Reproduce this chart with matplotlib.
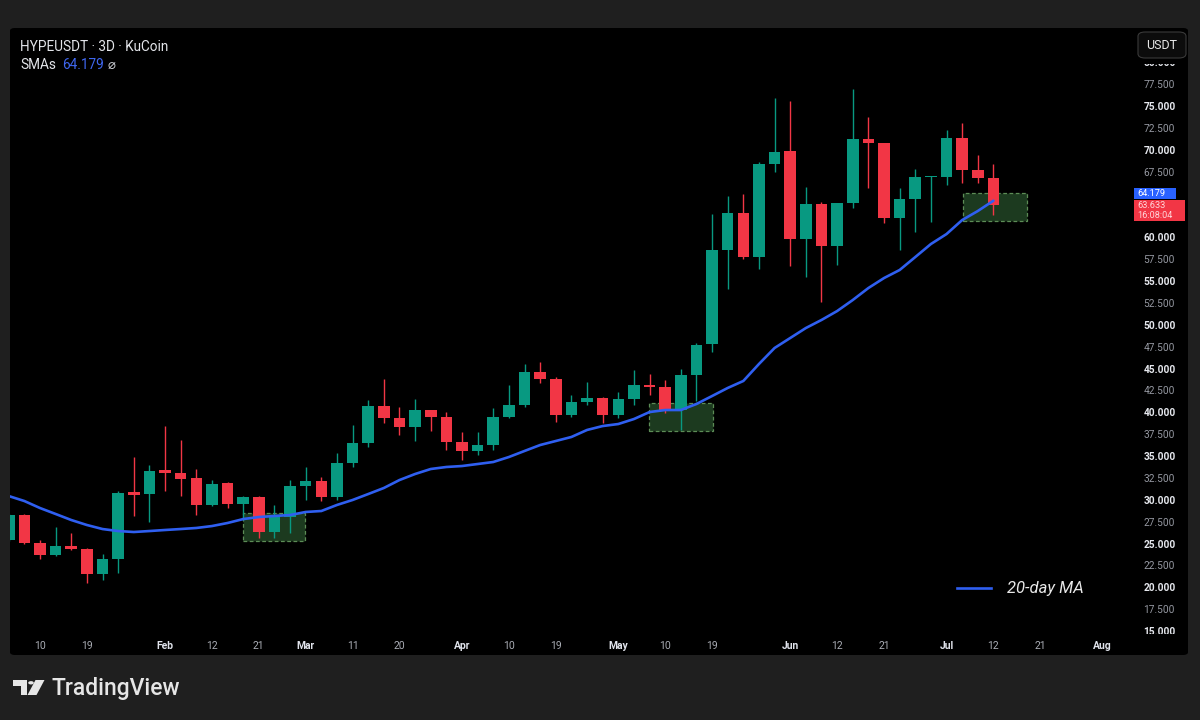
#!/usr/bin/env python
# -*- coding: utf-8 -*-

import matplotlib as mpl
mpl.use('Agg')
import matplotlib.pyplot as plt
from matplotlib.patches import FancyBboxPatch, Rectangle, Polygon, Circle
from matplotlib.lines import Line2D
from matplotlib.transforms import Bbox, TransformedBbox
import numpy as np
import pandas as pd

plt.rcParams['font.family'] = ['Roboto', 'DejaVu Sans']

# 3D candles, first bar starts 2025-01-04 (bar index -2), Jan 10 = index 0
first_bar = '2025-01-10'
bar_index = np.arange(-2, 62)
opens = [25.41, 28.26, 25.06, 23.69, 24.72, 24.38, 21.52, 23.24, 30.89, 30.66,
         33.40, 33.06, 32.49, 29.41, 31.92, 29.52, 30.32, 26.32, 28.03, 31.58,
         32.15, 30.32, 34.20, 36.49, 40.72, 39.35, 38.32, 40.26, 39.46, 36.60,
         35.58, 36.26, 39.46, 40.83, 44.60, 43.80, 39.69, 41.17, 41.63, 39.69,
         41.50, 43.12, 42.90, 40.26, 44.26, 47.80, 58.54, 62.77, 57.75, 68.37,
         69.86, 59.80, 63.80, 59.00, 63.92, 71.23, 70.77, 62.20, 64.37, 66.89,
         66.89, 71.34, 67.69, 66.77]
highs = [28.40, 28.40, 25.41, 26.89, 26.21, 24.45, 23.81, 31.00, 34.89, 33.98,
         38.43, 36.83, 33.52, 32.26, 32.03, 30.40, 30.43, 29.41, 32.26, 33.75,
         32.60, 35.35, 38.55, 41.40, 43.80, 40.60, 41.50, 40.30, 40.00, 37.75,
         37.75, 40.50, 43.12, 45.52, 45.75, 44.00, 41.97, 43.50, 41.70, 42.30,
         44.80, 44.40, 43.70, 44.90, 47.90, 62.66, 64.72, 64.94, 68.60, 75.91,
         75.57, 65.74, 64.03, 63.90, 76.94, 73.74, 70.80, 65.63, 67.80, 67.00,
         72.26, 73.06, 69.40, 68.37]
lows = [25.30, 25.00, 23.24, 23.60, 24.30, 20.49, 20.84, 21.64, 28.15, 27.46,
        31.00, 30.43, 28.26, 29.30, 29.06, 27.69, 25.63, 25.63, 26.21, 29.98,
        29.90, 30.00, 33.80, 36.00, 38.78, 37.40, 36.70, 37.90, 35.69, 34.55,
        35.10, 35.70, 39.30, 40.60, 43.35, 38.90, 39.50, 40.83, 38.78, 39.40,
        40.80, 42.00, 39.90, 37.98, 41.30, 46.89, 54.09, 57.50, 56.37, 67.46,
        56.72, 55.46, 52.60, 56.83, 63.34, 65.63, 61.63, 58.54, 60.60, 61.74,
        65.97, 66.20, 66.20, 62.54]
closes = [28.26, 25.06, 23.69, 24.72, 24.38, 21.52, 23.24, 30.78, 30.55, 33.29,
          33.06, 32.38, 29.41, 31.80, 29.52, 30.32, 26.32, 28.03, 31.58, 32.15,
          30.32, 34.20, 36.49, 40.72, 39.35, 38.32, 40.26, 39.46, 36.60, 35.58,
          36.26, 39.46, 40.83, 44.60, 43.80, 39.69, 41.17, 41.63, 39.69, 41.50,
          43.12, 42.90, 40.26, 44.26, 47.69, 58.54, 62.77, 57.75, 68.37, 69.74,
          59.80, 63.80, 59.00, 63.92, 71.23, 70.77, 62.20, 64.37, 66.89, 67.00,
          71.34, 67.69, 66.77, 63.633]
sma20 = [30.43, 29.86, 29.06, 28.38, 27.69, 27.12, 26.66, 26.43, 26.32, 26.43,
         26.55, 26.66, 26.78, 27.00, 27.35, 27.80, 28.03, 28.15, 28.26, 28.61,
         28.72, 29.41, 29.98, 30.66, 31.35, 32.26, 32.95, 33.52, 33.75, 33.86,
         34.09, 34.32, 34.89, 35.58, 36.26, 36.72, 37.18, 37.98, 38.43, 38.66,
         39.23, 40.03, 40.26, 40.26, 40.95, 41.86, 42.78, 43.58, 45.52, 47.35,
         48.49, 49.63, 50.55, 51.57, 52.83, 54.20, 55.34, 56.26, 57.74, 59.23,
         60.37, 61.97, 63.00, 64.179]
countdown = '16:08:04'

tick_dates = ['2025-01-10', '2025-01-19', '2025-02-03', '2025-02-12', '2025-02-21',
              '2025-03-02', '2025-03-11', '2025-03-20', '2025-04-01', '2025-04-10',
              '2025-04-19', '2025-05-01', '2025-05-10', '2025-05-19', '2025-06-03',
              '2025-06-12', '2025-06-21', '2025-07-03', '2025-07-12', '2025-07-21',
              '2025-08-02']
tick_labels = ['10', '19', 'Feb', '12', '21', 'Mar', '11', '20', 'Apr', '10', '19',
               'May', '10', '19', 'Jun', '12', '21', 'Jul', '12', '21', 'Aug']

# highlighted zones: (bar from, bar to, price low, price high)
zones = [(13.0, 16.95, 25.29, 28.49),
         (38.96, 43.06, 37.86, 41.06),
         (59.05, 63.15, 61.86, 65.06)]

W, H = 1200, 720
green = '#089981'
red = '#f23645'
blue = '#2f5ff0'

def fx(x):
    return x / W

def fy(y):
    return 1 - y / H

fig = plt.figure(figsize=(12, 7.2), dpi=100, facecolor='#1f1f1f')

# black chart panel (behind the axes)
fig.patches.append(FancyBboxPatch((fx(10), fy(655)), fx(1188) - fx(10), fy(28) - fy(655),
                                  boxstyle='round,pad=0,rounding_size=0.004',
                                  transform=fig.transFigure, fc='black', ec='none', zorder=-5))

ax = fig.add_axes([fx(10), fy(635), fx(1110) - fx(10), fy(32) - fy(635)])
ax.set_zorder(1)
ax.patch.set_alpha(0)
for s in ax.spines.values():
    s.set_visible(False)

x = bar_index
o = np.array(opens); c = np.array(closes)
hi = np.array(highs); lo = np.array(lows)
up = c >= o
colors = np.where(up, green, red)

# zones behind candles
for x0, x1, y0, y1 in zones:
    ax.add_patch(Rectangle((x0, y0), x1 - x0, y1 - y0, fc='#1c3a1f', ec='#5c8c56',
                           lw=0.9, ls=(0, (3, 2)), zorder=1))

ax.vlines(x, lo, hi, colors=colors, lw=1.0, zorder=2)
body = np.maximum(np.abs(c - o), 0.12)
ax.bar(x, body, bottom=np.minimum(o, c), width=0.74, color=colors, lw=0, zorder=3)

sma_line, = ax.plot(x, sma20, color=blue, lw=1.9, zorder=4, solid_capstyle='round')

ax.set_xlim(-1.92, 68.46)
ax.set_ylim(14.55, 83.46)

# time axis
t0 = pd.Timestamp(first_bar)
tick_pos = [(pd.Timestamp(d) - t0).days / 3 for d in tick_dates]
ax.set_xticks(tick_pos)
ax.set_xticklabels(tick_labels)
ax.tick_params(axis='x', length=0, pad=4.5, labelsize=7.5, labelcolor='#a9acb4')
for lab in ax.get_xticklabels():
    if not lab.get_text().isdigit():
        lab.set_fontweight('bold')
        lab.set_color('#e0e3eb')

# price axis; labels under the last-value tags are hidden, as in TradingView
yt = np.arange(15, 80.1, 2.5)
ax.yaxis.tick_right()
ax.set_yticks(yt)
ax.set_yticklabels(['{:.3f}'.format(v) for v in yt])
ax.tick_params(axis='y', length=0, pad=24, labelsize=7.3, labelcolor='#9598a1')
for v, lab in zip(yt, ax.get_yticklabels()):
    if v % 5 == 0:
        lab.set_fontweight('bold')
        lab.set_color('#e6e8ee')
    if 61.5 < v < 66:
        lab.set_visible(False)
    if v == 80:
        lab.set_clip_box(TransformedBbox(Bbox.from_extents(0, 0, 1, fy(64)), fig.transFigure))
        lab.set_clip_on(True)
    if v == 15:
        lab.set_clip_box(TransformedBbox(Bbox.from_extents(0, fy(634), 1, 1), fig.transFigure))
        lab.set_clip_on(True)

# USDT button
fig.patches.append(FancyBboxPatch((fx(1138), fy(58)), fx(1186) - fx(1138), fy(32) - fy(58),
                                  boxstyle='round,pad=0,rounding_size=0.006',
                                  transform=fig.transFigure, fc='#0c0c0c', ec='#3a3a3a',
                                  lw=0.8, zorder=5))
fig.text(fx(1162), fy(45.5), 'USDT', color='#e8e8e8', fontsize=9, ha='center', va='center', zorder=6)

# last value tags
fig.patches.append(Rectangle((fx(1134), fy(199)), fx(1176) - fx(1134), fy(188) - fy(199),
                             transform=fig.transFigure, fc='#2962ff', ec='none', zorder=5))
fig.text(fx(1137), fy(193), '{:.3f}'.format(sma20[-1]), color='white', fontsize=6.6,
         ha='left', va='center', zorder=6)
fig.patches.append(Rectangle((fx(1134), fy(221)), fx(1185) - fx(1134), fy(200) - fy(221),
                             transform=fig.transFigure, fc=red, ec='none', zorder=5))
fig.text(fx(1137), fy(201.3), '{:.3f}\n{}'.format(closes[-1], countdown), color='#ffd6da',
         fontsize=6.6, linespacing=1.05, ha='left', va='top', zorder=6)

# header
fig.text(fx(20), fy(47), 'HYPEUSDT · 3D · KuCoin', color='#e3e5ea', fontsize=9.8, va='center')
fig.text(fx(20), fy(65), 'SMAs', color='#e3e5ea', fontsize=9.8, va='center')
fig.text(fx(62), fy(65), '{:.3f}'.format(sma20[-1]), color='#3f67f0', fontsize=9.8, va='center')
fig.text(fx(108), fy(65), '⌀', color='#d0d2d8', fontsize=9.5, va='center',
         family=['DejaVu Sans'])

# legend
leg = ax.legend(handles=[Line2D([], [], color=blue, lw=1.9)], labels=['20-day MA'],
                loc='center right', bbox_to_anchor=(fx(1084), fy(589)),
                bbox_transform=fig.transFigure, frameon=False, handlelength=2.0,
                handletextpad=1.0, borderpad=0, borderaxespad=0,
                prop={'style': 'italic', 'size': 12})
for t in leg.get_texts():
    t.set_color('#e8e8e8')

# TradingView logo
logo_c = '#e6e6e6'
fig.patches.append(Polygon([(fx(13), fy(680)), (fx(27), fy(680)), (fx(27), fy(695)),
                            (fx(20.5), fy(695)), (fx(20.5), fy(685.5)), (fx(13), fy(685.5))],
                           closed=True, transform=fig.transFigure, fc=logo_c, ec='none'))
fig.patches.append(Circle((fx(31), fy(682.8)), 2.8 / W, transform=fig.transFigure,
                          fc=logo_c, ec='none'))
fig.patches.append(Polygon([(fx(35.5), fy(680)), (fx(44.5), fy(680)), (fx(36.5), fy(695)),
                            (fx(27.5), fy(695))],
                           closed=True, transform=fig.transFigure, fc=logo_c, ec='none'))
fig.text(fx(51), fy(688.5), 'TradingView', color=logo_c, fontsize=16.5, fontweight='medium',
         va='center', ha='left')

fig.savefig('out.png', dpi=100, facecolor=fig.get_facecolor())
